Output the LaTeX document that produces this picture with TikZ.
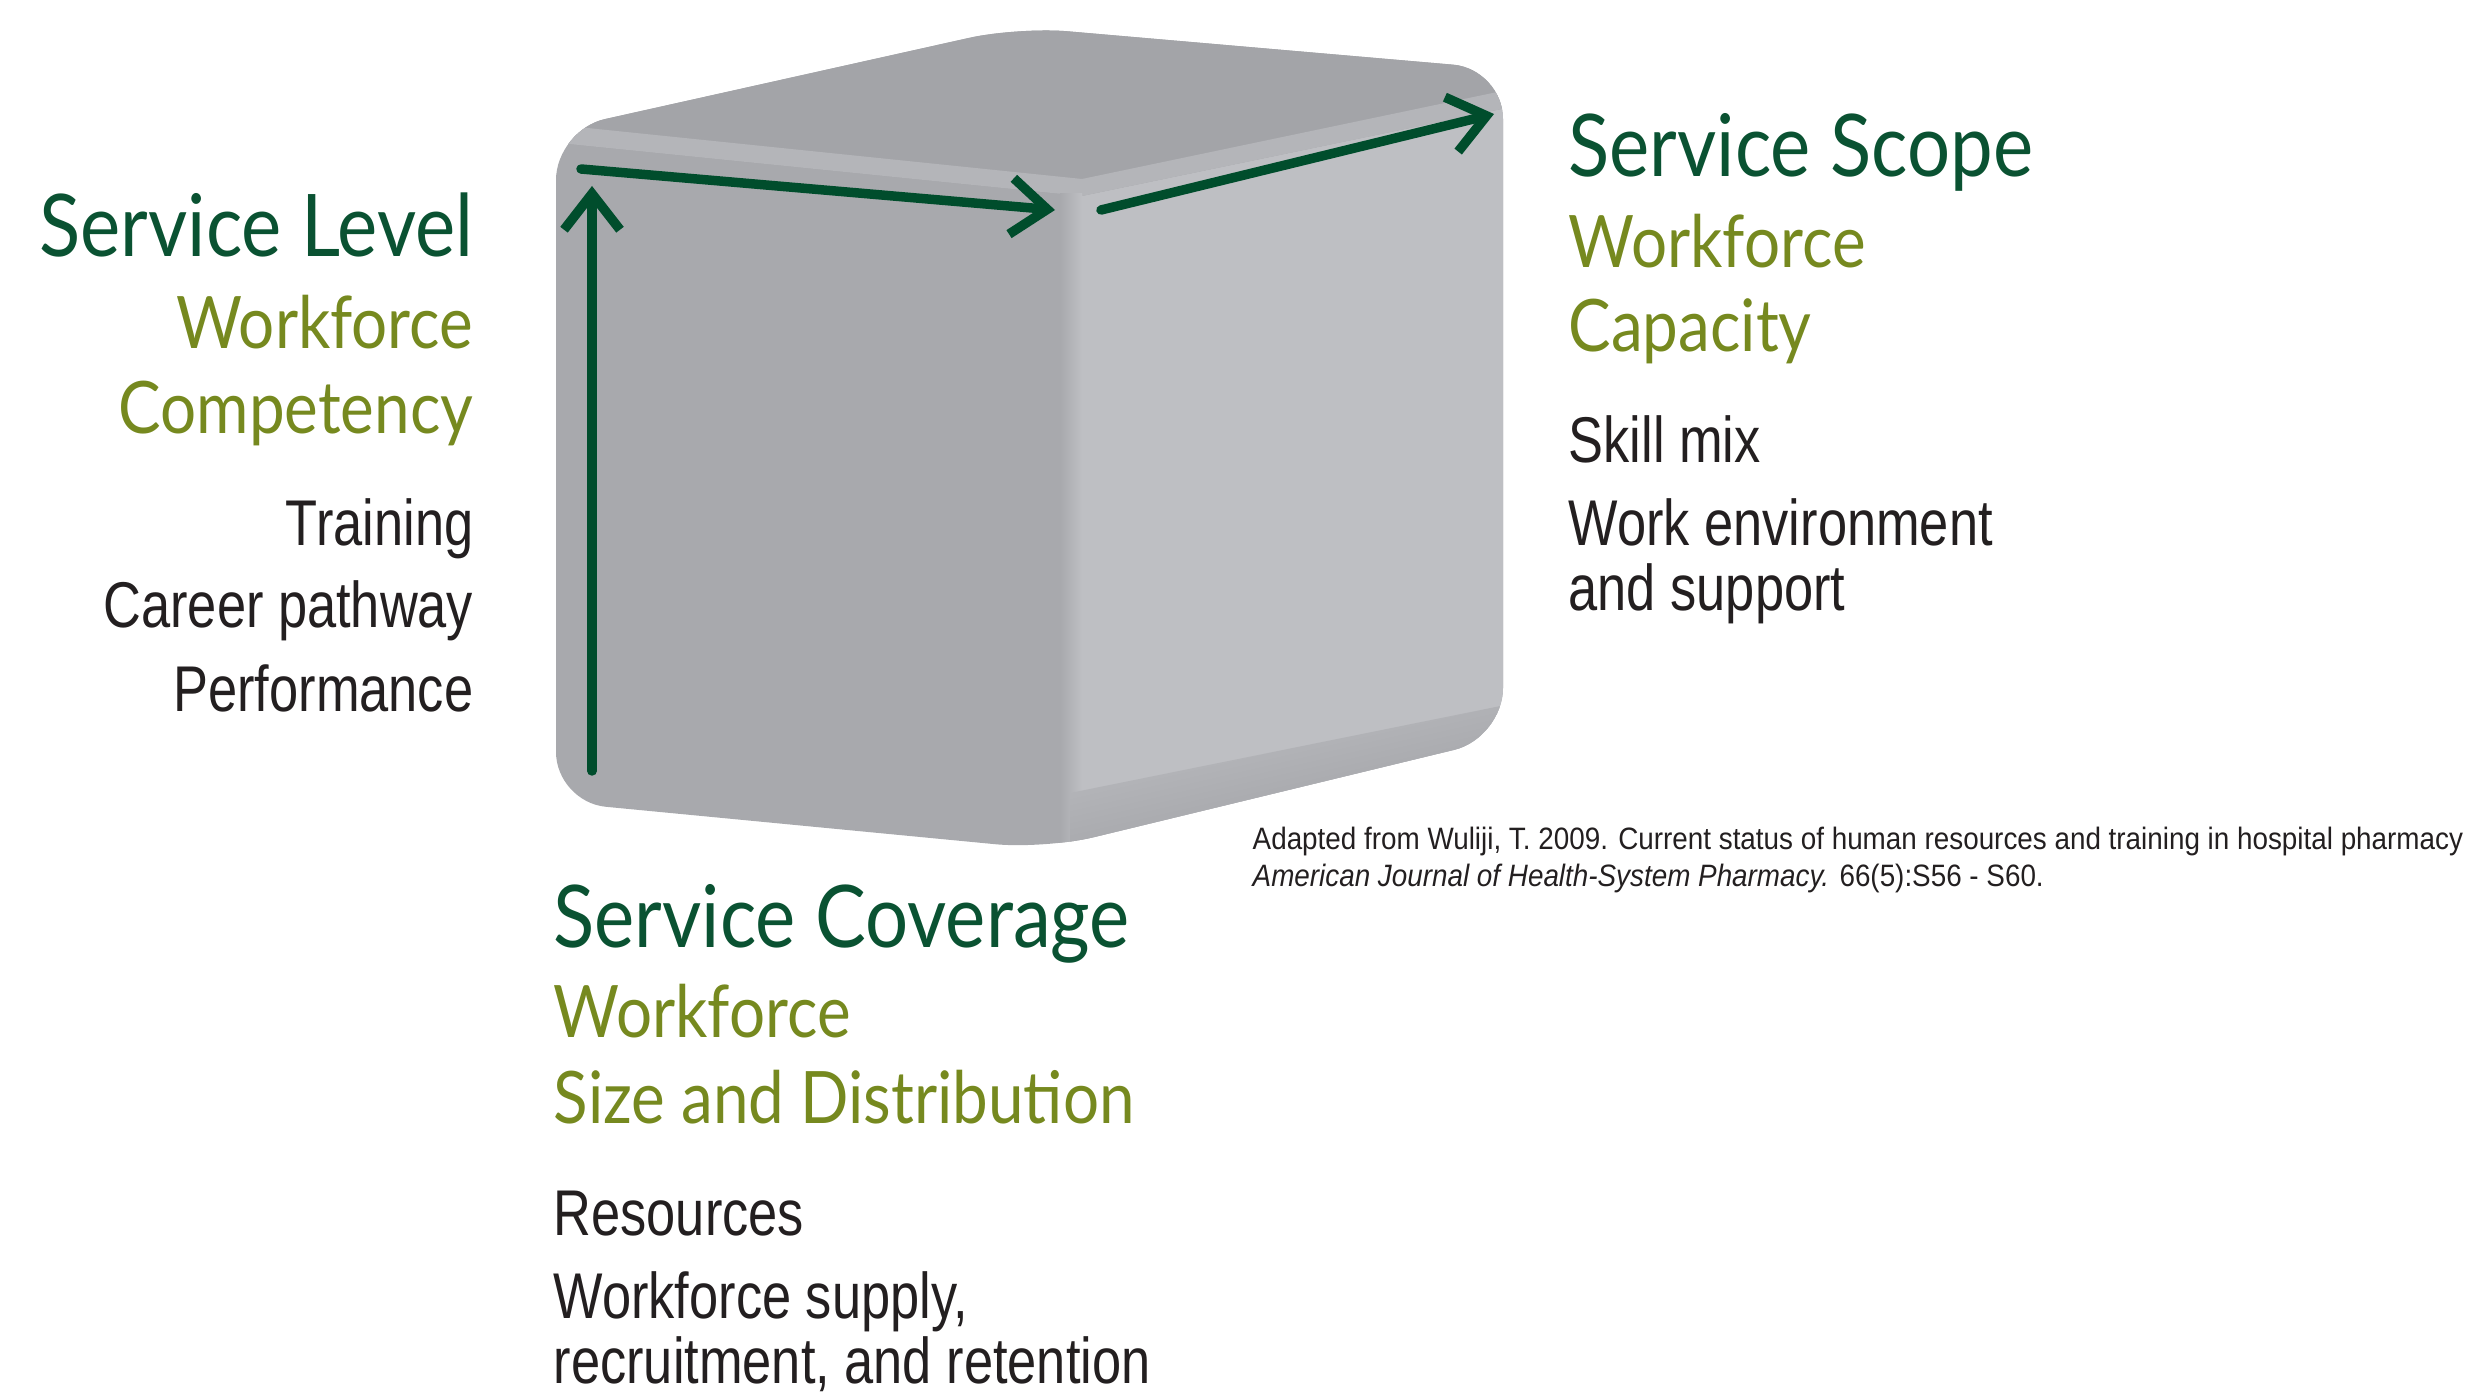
\documentclass[tikz,border=0pt]{standalone}
\usepackage{fontspec}
\newfontfamily\headfont{Lato}[FakeStretch=0.88]
\newfontfamily\bodyfont{Liberation Sans}[FakeStretch=0.81]
\newfontfamily\citefont{Liberation Sans}[FakeStretch=0.9]
\usetikzlibrary{positioning, arrows.meta}
\definecolor{darkgreen}{HTML}{0A5232}
\definecolor{leafgreen}{HTML}{76891F}
\definecolor{arrowgreen}{HTML}{004D2C}
\definecolor{txtgray}{HTML}{231F20}
\definecolor{frontgray}{HTML}{A8A9AD}
\definecolor{topgray}{HTML}{A3A4A8}
\definecolor{sidegray}{HTML}{BEBFC3}
\definecolor{shadowgray}{HTML}{939498}
\definecolor{edgegray}{HTML}{B4B5B9}

\begin{document}
\begin{tikzpicture}[head/.style={text=darkgreen, inner sep=0pt, font=\headfont\fontsize{24.6}{28}\selectfont},
sub/.style={text=leafgreen, inner sep=0pt, font=\headfont\fontsize{20.6}{24}\selectfont},
body/.style={text=txtgray, inner sep=0pt, font=\bodyfont\fontsize{18.4}{22}\selectfont},
cite/.style={text=txtgray, inner sep=0pt, font=\citefont\fontsize{8.8}{10}\selectfont},
arr/.style={draw=arrowgreen, line width=2.7pt, line cap=round, -{Straight Barb[length=3.6mm,width=5.6mm]}}]
\useasboundingbox (0,0) rectangle (24.76,13.99);

% the block
\begin{scope}
\clip[rounded corners=0.5cm] (5.56,12.69) -- (10.18,13.72) -- (15.03,13.3) -- (15.03,6.61) -- (10.45,5.5) -- (5.56,5.97) -- cycle;
\fill[color=frontgray] (5,5) rectangle (15.5,14);
\fill[color=topgray] (5,12.62) -- (10.82,12.03) -- (15.5,13.0) -- (15.5,14) -- (5,14) -- cycle;
\fill[color=edgegray] (5,12.62) -- (10.82,12.03) -- (10.82,12.2) -- (5,12.8) -- cycle;
\fill[color=sidegray] (10.82,12.03) -- (15.5,13.0) -- (15.5,5) -- (10.82,5) -- cycle;
\fill[color=edgegray] (10.82,12.03) -- (15.5,13.0) -- (15.5,13.18) -- (10.82,12.2) -- cycle;
\shade[left color=frontgray, right color=sidegray] (10.6,5) rectangle (10.82,12.05);
\shade[top color=sidegray, bottom color=shadowgray, shading angle=13] (10.7,6.06) -- (15.5,7.03) -- (15.5,5) -- (10.7,5) -- cycle;
\end{scope}

\coordinate (upstart) at (5.92,6.28);
\coordinate (upend) at (5.92,12.13);
\coordinate (frontstart) at (5.81,12.3);
\coordinate (frontend) at (10.55,11.89);
\coordinate (sidestart) at (11.01,11.89);
\coordinate (sideend) at (14.94,12.85);
\draw[arr] (upstart) -- (upend);
\draw[arr] (frontstart) -- (frontend);
\draw[arr] (sidestart) -- (sideend);

% left
\node[head, anchor=base east] (levelhead) at (4.74,11.42) {Service Level};
\node[sub, anchor=base east] (levelsub1) at (4.74,10.50) {Workforce};
\node[sub, anchor=base east] (levelsub2) at (4.74,9.65) {Competency};
\node[body, anchor=base east] (levelitem1) at (4.74,8.53) {Training};
\node[body, anchor=base east] (levelitem2) at (4.74,7.72) {Career pathway};
\node[body, anchor=base east] (levelitem3) at (4.74,6.88) {Performance};

% right
\node[head, anchor=base west] (scopehead) at (15.68,12.22) {Service Scope};
\node[sub, anchor=base west] (scopesub1) at (15.68,11.31) {Workforce};
\node[sub, anchor=base west] (scopesub2) at (15.68,10.47) {Capacity};
\node[body, anchor=base west] (scopeitem1) at (15.68,9.36) {Skill mix};
\node[body, anchor=base west] (scopeitem2) at (15.68,8.53) {Work environment};
\node[body, anchor=base west] (scopeitem3) at (15.68,7.88) {and support};

% bottom
\node[head, anchor=base west] (coverhead) at (5.53,4.52) {Service Coverage};
\node[sub, anchor=base west] (coversub1) at (5.53,3.62) {Workforce};
\node[sub, anchor=base west] (coversub2) at (5.53,2.76) {Size and Distribution};
\node[body, anchor=base west] (coveritem1) at (5.53,1.64) {Resources};
\node[body, anchor=base west] (coveritem2) at (5.53,0.81) {Workforce supply,};
\node[body, anchor=base west] (coveritem3) at (5.53,0.16) {recruitment, and retention};

% source
\node[cite, anchor=base west] (source1) at (12.52,5.50) {Adapted from Wuliji, T. 2009. Current status of human resources and training in hospital pharmacy};
\node[cite, anchor=base west] (source2) at (12.52,5.13) {\itshape American Journal of Health-System Pharmacy.\upshape{} 66(5):S56 - S60.};
\end{tikzpicture}
\end{document}
